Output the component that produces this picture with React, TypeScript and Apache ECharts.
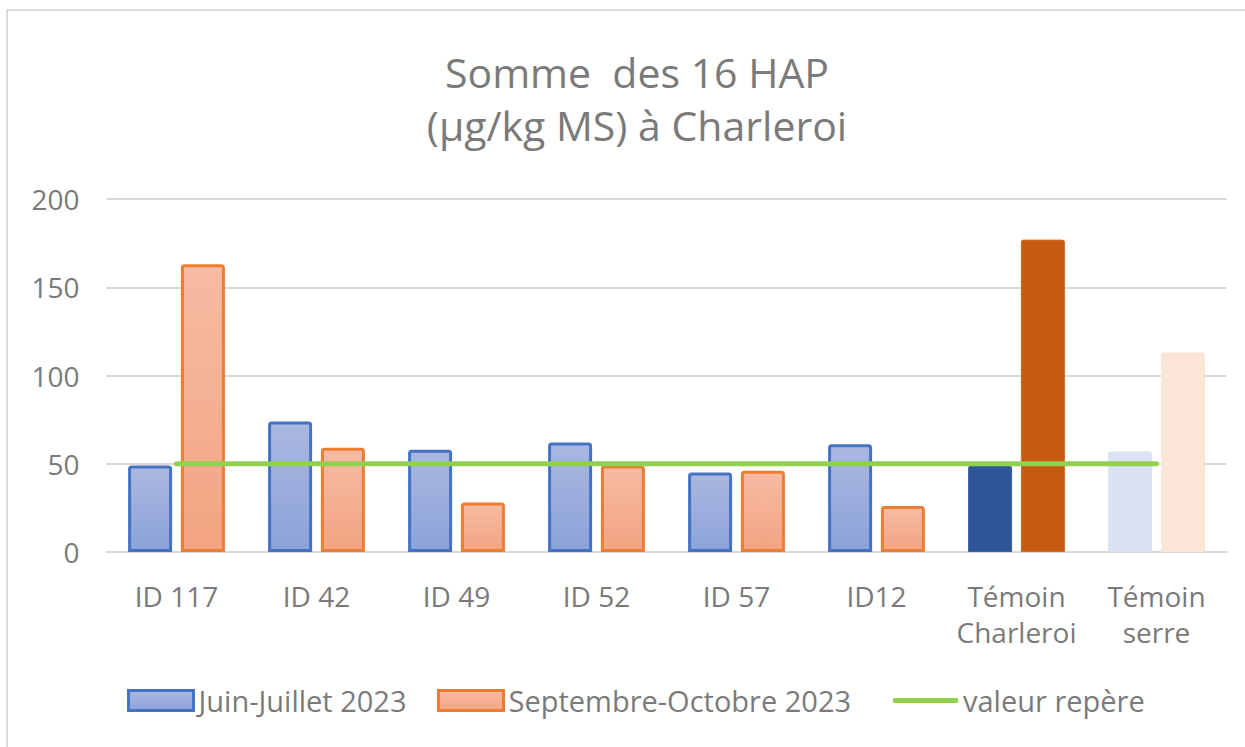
import React, { useEffect, useRef } from "react";
import * as echarts from "echarts";

const categories = ["ID 117", "ID 42", "ID 49", "ID 52", "ID 57", "ID12", "Témoin\nCharleroi", "Témoin\nserre"];
const juinJuillet = [49, 74, 58, 62, 45, 61, 49, 57];
const septOct = [163, 59, 28, 49, 46, 26, 177, 113];
const valeurRepere = [50, 50, 50, 50, 50, 50, 50, 50];
const yTicks = { min: 0, max: 200, interval: 50 };

const FONT = "Open Sans";
const TEXT = "#7a7a7a";

const blueGrad = () =>
  new echarts.graphic.LinearGradient(0, 0, 0, 1, [
    { offset: 0, color: "#AAB8E0" },
    { offset: 1, color: "#8CA2D9" },
  ]);
const orangeGrad = () =>
  new echarts.graphic.LinearGradient(0, 0, 0, 1, [
    { offset: 0, color: "#F6BBA2" },
    { offset: 1, color: "#F3A482" },
  ]);

const blueSpecial: Record<number, any> = {
  6: { color: "#2E5597", borderColor: "#3562AC" },
  7: { color: "#DAE3F3", borderColor: "#DAE3F3" },
};
const orangeSpecial: Record<number, any> = {
  6: { color: "#C55A11", borderColor: "#D8691F" },
  7: { color: "#FBE5D6", borderColor: "#FBE5D6" },
};

export default function App() {
  const ref = useRef<HTMLDivElement>(null);
  useEffect(() => {
    if (!ref.current) return;
    const chart = echarts.init(ref.current, undefined, { renderer: "svg" });
    const legendCommon = {
      top: 681,
      itemHeight: 20,
      itemWidth: 65,
      itemGap: 8,
      textStyle: { color: TEXT, fontFamily: FONT, fontSize: 29, padding: [0, 0, 0, 0] },
    };
    chart.setOption({
      animation: false,
      backgroundColor: "#ffffff",
      title: {
        text: "Somme  des 16 HAP\n(µg/kg MS) à Charleroi",
        left: 632,
        top: 40,
        textAlign: "center",
        textStyle: {
          color: TEXT,
          fontFamily: FONT,
          fontWeight: "normal",
          fontSize: 41,
          lineHeight: 53,
        },
      },
      graphic: [
        {
          type: "rect",
          shape: { x: 7, y: 10, width: 1400, height: 900 },
          style: { fill: "none", stroke: "#D0D0D0", lineWidth: 1.5 },
          silent: true,
        },
      ],
      legend: [
        {
          ...legendCommon,
          left: 122,
          data: [{ name: "Juin-Juillet 2023", icon: "rect" }],
          itemStyle: { borderWidth: 3 },
        },
        {
          ...legendCommon,
          left: 432,
          data: [{ name: "Septembre-Octobre 2023", icon: "rect" }],
          itemStyle: { borderWidth: 3 },
        },
        {
          ...legendCommon,
          left: 888,
          itemHeight: 5,
          data: [{ name: "valeur repère", icon: "roundRect", itemStyle: { color: "#92D050" } }],
        },
      ],
      grid: { left: 106.5, right: 18.5, top: 199, bottom: 195, containLabel: false },
      xAxis: {
        type: "category",
        data: categories,
        axisLine: { lineStyle: { color: "#D9D9D9", width: 2 } },
        axisTick: { show: false },
        axisLabel: {
          color: TEXT,
          fontFamily: FONT,
          fontSize: 28,
          lineHeight: 36,
          margin: 26,
          interval: 0,
        },
      },
      yAxis: {
        type: "value",
        min: yTicks.min,
        max: yTicks.max,
        interval: yTicks.interval,
        axisLine: { show: false },
        axisTick: { show: false },
        splitLine: { lineStyle: { color: "#D9D9D9", width: 2 } },
        axisLabel: { color: TEXT, fontFamily: FONT, fontSize: 28, margin: 27 },
      },
      series: [
        {
          name: "Juin-Juillet 2023",
          type: "bar",
          barWidth: 44,
          barGap: "20%",
          itemStyle: { color: blueGrad(), borderColor: "#4472C4", borderWidth: 3, borderRadius: [2, 2, 0, 0] },
          data: juinJuillet.map((v, i) =>
            blueSpecial[i] ? { value: v, itemStyle: { ...blueSpecial[i], borderWidth: 1 } } : v
          ),
        },
        {
          name: "Septembre-Octobre 2023",
          type: "bar",
          barWidth: 44,
          barGap: "20%",
          itemStyle: { color: orangeGrad(), borderColor: "#ED7D31", borderWidth: 3, borderRadius: [2, 2, 0, 0] },
          data: septOct.map((v, i) =>
            orangeSpecial[i] ? { value: v, itemStyle: { ...orangeSpecial[i], borderWidth: 1 } } : v
          ),
        },
        {
          name: "valeur repère",
          type: "line",
          symbol: "none",
          itemStyle: { color: "#92D050" },
          lineStyle: { color: "#92D050", width: 5, cap: "round" },
          data: valeurRepere,
          z: 5,
        },
      ],
    });
    return () => chart.dispose();
  }, []);
  return (
    <div
      ref={ref}
      style={{ position: "fixed", left: 0, top: 0, width: 1245, height: 747 }}
    />
  );
}
